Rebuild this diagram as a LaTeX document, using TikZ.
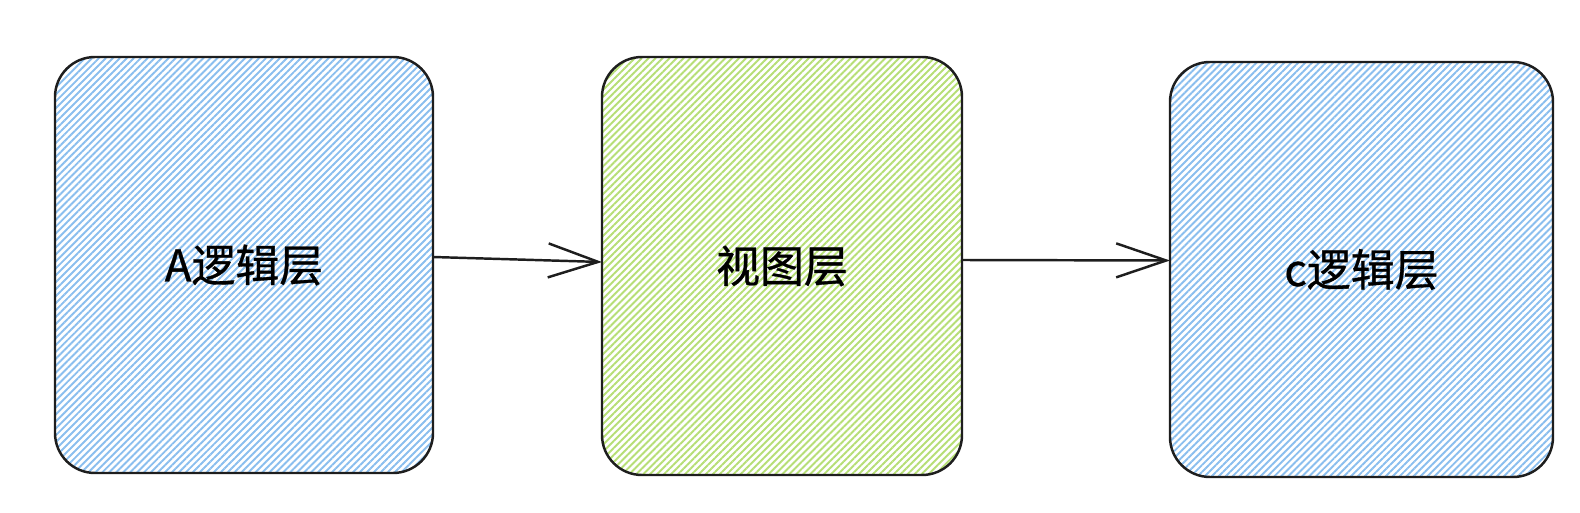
\documentclass[tikz,border=0pt]{standalone}
\usepackage{fontspec}
\setmainfont{Noto Sans CJK SC}
\newfontfamily\layerfont{Noto Sans CJK SC}[FakeBold=0.8]
\usepackage{xcolor}
\usetikzlibrary{arrows.meta,patterns.meta}

\definecolor{hatchblue}{RGB}{138,190,238}
\definecolor{hatchgreen}{RGB}{182,222,118}
\definecolor{inkline}{RGB}{30,30,30}

\begin{document}
\begin{tikzpicture}[
    layer/.style={shape=rectangle, rounded corners=0.8cm, draw=inkline, line width=1.4pt,
      inner sep=0pt, outer sep=0pt, font=\layerfont\fontsize{25pt}{30pt}\selectfont},
    bluelayer/.style={layer, pattern={Lines[angle=45,distance=2.8pt,line width=1.1pt]}, pattern color=hatchblue},
    greenlayer/.style={layer, pattern={Lines[angle=45,distance=2.8pt,line width=1.1pt]}, pattern color=hatchgreen},
    flow/.style={draw=inkline, line width=1.4pt, -{Straight Barb[length=1cm,width=0.68cm]}}]
    \useasboundingbox (0,0) rectangle (31.6,10.24);

    \node[bluelayer, minimum width=7.56cm, minimum height=8.32cm] (logica) at (4.88,4.94) {A逻辑层};
    \node[greenlayer, minimum width=7.2cm, minimum height=8.36cm] (view) at (15.64,4.92) {视图层};
    \node[bluelayer, minimum width=7.66cm, minimum height=8.3cm] (logicc) at (27.23,4.85) {c逻辑层};

    \draw[flow] ([yshift=0.16cm]logica.east) -- ([yshift=0.08cm]view.west);
    \draw[flow] ([yshift=0.12cm]view.east) -- ([yshift=0.18cm]logicc.west);
  \end{tikzpicture}
\end{document}
